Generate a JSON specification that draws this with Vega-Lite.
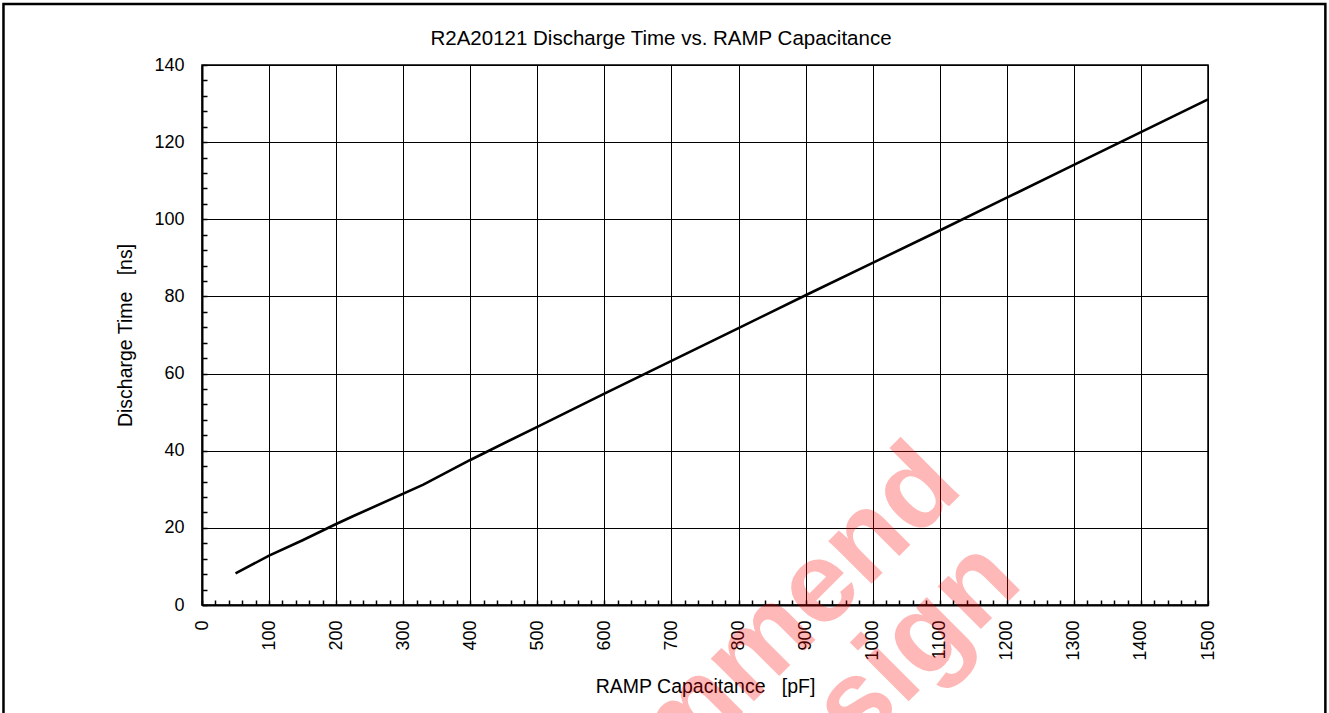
{
  "$schema": "https://vega.github.io/schema/vega-lite/v6.json",
  "width": 1006,
  "height": 540,
  "autosize": {"type": "none"},
  "padding": {"left": 202, "top": 65, "right": 121, "bottom": 108},
  "background": "white",
  "config": {"font": "Liberation Sans", "view": {"stroke": "black", "strokeWidth": 1.5}},
  "title": {"text": "R2A20121 Discharge Time vs. RAMP Capacitance", "frame": "group", "baseline": "alphabetic", "fontSize": 20.5, "fontWeight": "normal", "color": "black", "dx": -44, "dy": 63, "offset": 0, "font": "Liberation Sans"},
  "layer": [
    {
      "data": {"values": [
        {"C": 50, "T": 8.2},
        {"C": 100, "T": 12.8},
        {"C": 150, "T": 16.8},
        {"C": 200, "T": 21.0},
        {"C": 225, "T": 23.0},
        {"C": 330, "T": 31.2},
        {"C": 400, "T": 37.6},
        {"C": 500, "T": 46.2},
        {"C": 600, "T": 54.8},
        {"C": 700, "T": 63.3},
        {"C": 800, "T": 71.8},
        {"C": 900, "T": 80.3},
        {"C": 1000, "T": 88.7},
        {"C": 1100, "T": 97.1},
        {"C": 1200, "T": 105.6},
        {"C": 1300, "T": 114.1},
        {"C": 1400, "T": 122.6},
        {"C": 1500, "T": 131.1}
      ]},
      "mark": {"type": "line", "color": "black", "strokeWidth": 2.6},
      "encoding": {
        "x": {
          "field": "C", "type": "quantitative",
          "scale": {"domain": [0, 1500], "nice": false, "zero": false},
          "axis": {
            "title": "RAMP Capacitance\u00a0\u00a0 [pF]",
            "values": [0,20,40,60,80,100,120,140,160,180,200,220,240,260,280,300,320,340,360,380,400,420,440,460,480,500,520,540,560,580,600,620,640,660,680,700,720,740,760,780,800,820,840,860,880,900,920,940,960,980,1000,1020,1040,1060,1080,1100,1120,1140,1160,1180,1200,1220,1240,1260,1280,1300,1320,1340,1360,1380,1400,1420,1440,1460,1480,1500],
            "format": "d",
            "labelExpr": "datum.value % 100 === 0 ? datum.label : ''",
            "labelAngle": 270,
            "labelAlign": "right",
            "labelBaseline": "middle",
            "labelFontSize": 18,
            "labelColor": "black",
            "labelPadding": 20,
            "labelOverlap": false,
            "labelFlush": false,
            "tickSize": -5,
            "tickColor": "black",
            "tickWidth": 1.5,
            "domainColor": "black",
            "domainWidth": 2,
            "grid": true,
            "gridColor": "black",
            "gridWidth": 1,
            "gridOpacity": {"condition": {"test": "datum.value % 100 === 0", "value": 1}, "value": 0},
            "titleFontSize": 19.5,
            "titleFontWeight": "normal",
            "titleColor": "black",
            "titlePadding": 17
          }
        },
        "y": {
          "field": "T", "type": "quantitative",
          "scale": {"domain": [0, 140], "nice": false},
          "axis": {
            "title": "Discharge Time\u00a0\u00a0 [ns]",
            "values": [0,4,8,12,16,20,24,28,32,36,40,44,48,52,56,60,64,68,72,76,80,84,88,92,96,100,104,108,112,116,120,124,128,132,136,140],
            "format": "d",
            "labelExpr": "datum.value % 20 === 0 ? datum.label : ''",
            "labelFontSize": 18,
            "labelColor": "black",
            "labelPadding": 23,
            "labelOverlap": false,
            "labelFlush": false,
            "tickSize": -5,
            "tickColor": "black",
            "tickWidth": 1.5,
            "domainColor": "black",
            "domainWidth": 2,
            "grid": true,
            "gridColor": "black",
            "gridWidth": 1,
            "gridOpacity": {"condition": {"test": "datum.value % 20 === 0", "value": 1}, "value": 0},
            "titleFontSize": 19.5,
            "titleFontWeight": "normal",
            "titleColor": "black",
            "titlePadding": 18
          }
        }
      }
    },
    {
      "data": {"values": [{"frame": "outer"}]},
      "mark": {"type": "rect", "fill": "white", "fillOpacity": 0, "stroke": "black", "strokeWidth": 2.5, "clip": false},
      "encoding": {
        "x": {
          "datum": -296, "type": "quantitative",
          "scale": {"domain": [0, 1500], "nice": false, "zero": false},
          "axis": {
            "title": "RAMP Capacitance\u00a0\u00a0 [pF]",
            "values": [0,20,40,60,80,100,120,140,160,180,200,220,240,260,280,300,320,340,360,380,400,420,440,460,480,500,520,540,560,580,600,620,640,660,680,700,720,740,760,780,800,820,840,860,880,900,920,940,960,980,1000,1020,1040,1060,1080,1100,1120,1140,1160,1180,1200,1220,1240,1260,1280,1300,1320,1340,1360,1380,1400,1420,1440,1460,1480,1500],
            "format": "d",
            "labelExpr": "datum.value % 100 === 0 ? datum.label : ''",
            "labelAngle": 270,
            "labelAlign": "right",
            "labelBaseline": "middle",
            "labelFontSize": 18,
            "labelColor": "black",
            "labelPadding": 20,
            "labelOverlap": false,
            "labelFlush": false,
            "tickSize": -5,
            "tickColor": "black",
            "tickWidth": 1.5,
            "domainColor": "black",
            "domainWidth": 2,
            "grid": true,
            "gridColor": "black",
            "gridWidth": 1,
            "gridOpacity": {"condition": {"test": "datum.value % 100 === 0", "value": 1}, "value": 0},
            "titleFontSize": 19.5,
            "titleFontWeight": "normal",
            "titleColor": "black",
            "titlePadding": 17
          }
        },
        "x2": {"datum": 1675},
        "y": {
          "datum": 155.8, "type": "quantitative",
          "scale": {"domain": [0, 140], "nice": false},
          "axis": {
            "title": "Discharge Time\u00a0\u00a0 [ns]",
            "values": [0,4,8,12,16,20,24,28,32,36,40,44,48,52,56,60,64,68,72,76,80,84,88,92,96,100,104,108,112,116,120,124,128,132,136,140],
            "format": "d",
            "labelExpr": "datum.value % 20 === 0 ? datum.label : ''",
            "labelFontSize": 18,
            "labelColor": "black",
            "labelPadding": 23,
            "labelOverlap": false,
            "labelFlush": false,
            "tickSize": -5,
            "tickColor": "black",
            "tickWidth": 1.5,
            "domainColor": "black",
            "domainWidth": 2,
            "grid": true,
            "gridColor": "black",
            "gridWidth": 1,
            "gridOpacity": {"condition": {"test": "datum.value % 20 === 0", "value": 1}, "value": 0},
            "titleFontSize": 19.5,
            "titleFontWeight": "normal",
            "titleColor": "black",
            "titlePadding": 18
          }
        },
        "y2": {"datum": -30}
      }
    },
    {
      "data": {"values": [
        {"line": "Not Recommend", "xpos": 1138, "ypos": 29.8},
        {"line": "for New Design", "xpos": 1227, "ypos": 5.2}
      ]},
      "mark": {"type": "text", "align": "right", "baseline": "alphabetic", "angle": 315, "fontSize": 115, "fontWeight": "bold", "font": "Liberation Sans", "fill": "#ff0000", "fillOpacity": 0.28, "clip": false},
      "encoding": {
        "x": {
          "field": "xpos", "type": "quantitative",
          "scale": {"domain": [0, 1500], "nice": false, "zero": false},
          "axis": {
            "title": "RAMP Capacitance\u00a0\u00a0 [pF]",
            "values": [0,20,40,60,80,100,120,140,160,180,200,220,240,260,280,300,320,340,360,380,400,420,440,460,480,500,520,540,560,580,600,620,640,660,680,700,720,740,760,780,800,820,840,860,880,900,920,940,960,980,1000,1020,1040,1060,1080,1100,1120,1140,1160,1180,1200,1220,1240,1260,1280,1300,1320,1340,1360,1380,1400,1420,1440,1460,1480,1500],
            "format": "d",
            "labelExpr": "datum.value % 100 === 0 ? datum.label : ''",
            "labelAngle": 270,
            "labelAlign": "right",
            "labelBaseline": "middle",
            "labelFontSize": 18,
            "labelColor": "black",
            "labelPadding": 20,
            "labelOverlap": false,
            "labelFlush": false,
            "tickSize": -5,
            "tickColor": "black",
            "tickWidth": 1.5,
            "domainColor": "black",
            "domainWidth": 2,
            "grid": true,
            "gridColor": "black",
            "gridWidth": 1,
            "gridOpacity": {"condition": {"test": "datum.value % 100 === 0", "value": 1}, "value": 0},
            "titleFontSize": 19.5,
            "titleFontWeight": "normal",
            "titleColor": "black",
            "titlePadding": 17
          }
        },
        "y": {
          "field": "ypos", "type": "quantitative",
          "scale": {"domain": [0, 140], "nice": false},
          "axis": {
            "title": "Discharge Time\u00a0\u00a0 [ns]",
            "values": [0,4,8,12,16,20,24,28,32,36,40,44,48,52,56,60,64,68,72,76,80,84,88,92,96,100,104,108,112,116,120,124,128,132,136,140],
            "format": "d",
            "labelExpr": "datum.value % 20 === 0 ? datum.label : ''",
            "labelFontSize": 18,
            "labelColor": "black",
            "labelPadding": 23,
            "labelOverlap": false,
            "labelFlush": false,
            "tickSize": -5,
            "tickColor": "black",
            "tickWidth": 1.5,
            "domainColor": "black",
            "domainWidth": 2,
            "grid": true,
            "gridColor": "black",
            "gridWidth": 1,
            "gridOpacity": {"condition": {"test": "datum.value % 20 === 0", "value": 1}, "value": 0},
            "titleFontSize": 19.5,
            "titleFontWeight": "normal",
            "titleColor": "black",
            "titlePadding": 18
          }
        },
        "text": {"field": "line"}
      }
    }
  ]
}
